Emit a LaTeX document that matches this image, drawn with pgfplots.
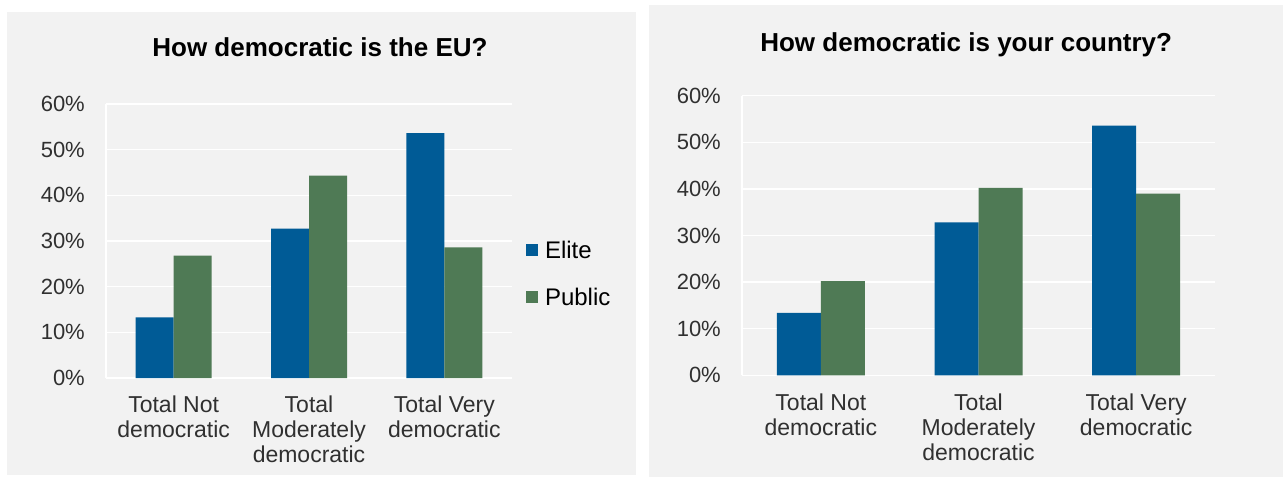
\documentclass[border=0pt]{standalone}
\usepackage{fontspec}
\setmainfont{Liberation Sans}
\usepackage{pgfplots}
\pgfplotsset{compat=1.18}

\definecolor{elite}{HTML}{005B96}
\definecolor{public}{HTML}{4F7A55}
\definecolor{panel}{HTML}{F2F2F2}
\definecolor{ticktext}{HTML}{303030}

\pgfplotsset{
  demobars/.style={
    ybar=0pt,
    scale only axis,
    xmin=-0.5, xmax=2.5,
    ymin=0, ymax=60,
    ytick={0,10,...,60},
    yticklabels={0\%,10\%,20\%,30\%,40\%,50\%,60\%},
    xtick={0,1,2},
    xticklabels={{Total Not\\democratic},{Total\\Moderately\\democratic},{Total Very\\democratic}},
    major tick length=0pt,
    ymajorgrids,
    grid style={white, line width=1.5pt},
    axis x line*=bottom,
    axis y line*=left,
    axis line style={white, line width=1.5pt, -},
    yticklabel style={font=\fontsize{22}{24}\selectfont, text=ticktext, anchor=east, inner sep=0pt, xshift=-21pt},
    xticklabel style={font=\fontsize{23}{25}\selectfont, text=ticktext, align=center, anchor=north, inner sep=0pt, yshift=-18pt},
    title style={font=\bfseries\fontsize{26}{30}\selectfont, anchor=center},
  },
}

\begin{document}
\begin{tikzpicture}
\useasboundingbox (0pt,0pt) rectangle (1283pt,-477pt);
\fill[white] (0pt,0pt) rectangle (1283pt,-477pt);
\fill[panel] (6.5pt,-12pt) rectangle (635.7pt,-475pt);
\fill[panel] (649.3pt,-5.3pt) rectangle (1283pt,-477pt);

% EU
\begin{axis}[demobars,
  at={(106pt,-378pt)}, anchor=south west,
  width=406pt, height=274pt,
  bar width=38pt,
  title={How democratic is the EU?},
  title style={at={(0.527,1.184)}},
  legend style={at={(1.034,0.381)}, anchor=west, draw=none, fill=none,
    inner sep=0pt, font=\fontsize{24}{26}\selectfont, row sep=24pt,
    column sep=5pt, legend cell align=left},
  legend image code/.code={\draw[#1,draw=none] (0pt,-6pt) rectangle (12pt,6pt);},
]
\addplot[fill=elite, draw=none] coordinates {(0,13.3) (1,32.7) (2,53.6)};
\addlegendentry{Elite}
\addplot[fill=public, draw=none] coordinates {(0,26.8) (1,44.3) (2,28.6)};
\addlegendentry{Public}
\end{axis}

% country
\begin{axis}[demobars,
  at={(742pt,-375.3pt)}, anchor=south west,
  width=473pt, height=279.6pt,
  bar width=44pt,
  title={How democratic is your country?},
  title style={at={(0.474,1.159)}},
]
\addplot[fill=elite, draw=none] coordinates {(0,13.4) (1,32.8) (2,53.6)};
\addplot[fill=public, draw=none] coordinates {(0,20.2) (1,40.2) (2,39.0)};
\end{axis}
\end{tikzpicture}
\end{document}
